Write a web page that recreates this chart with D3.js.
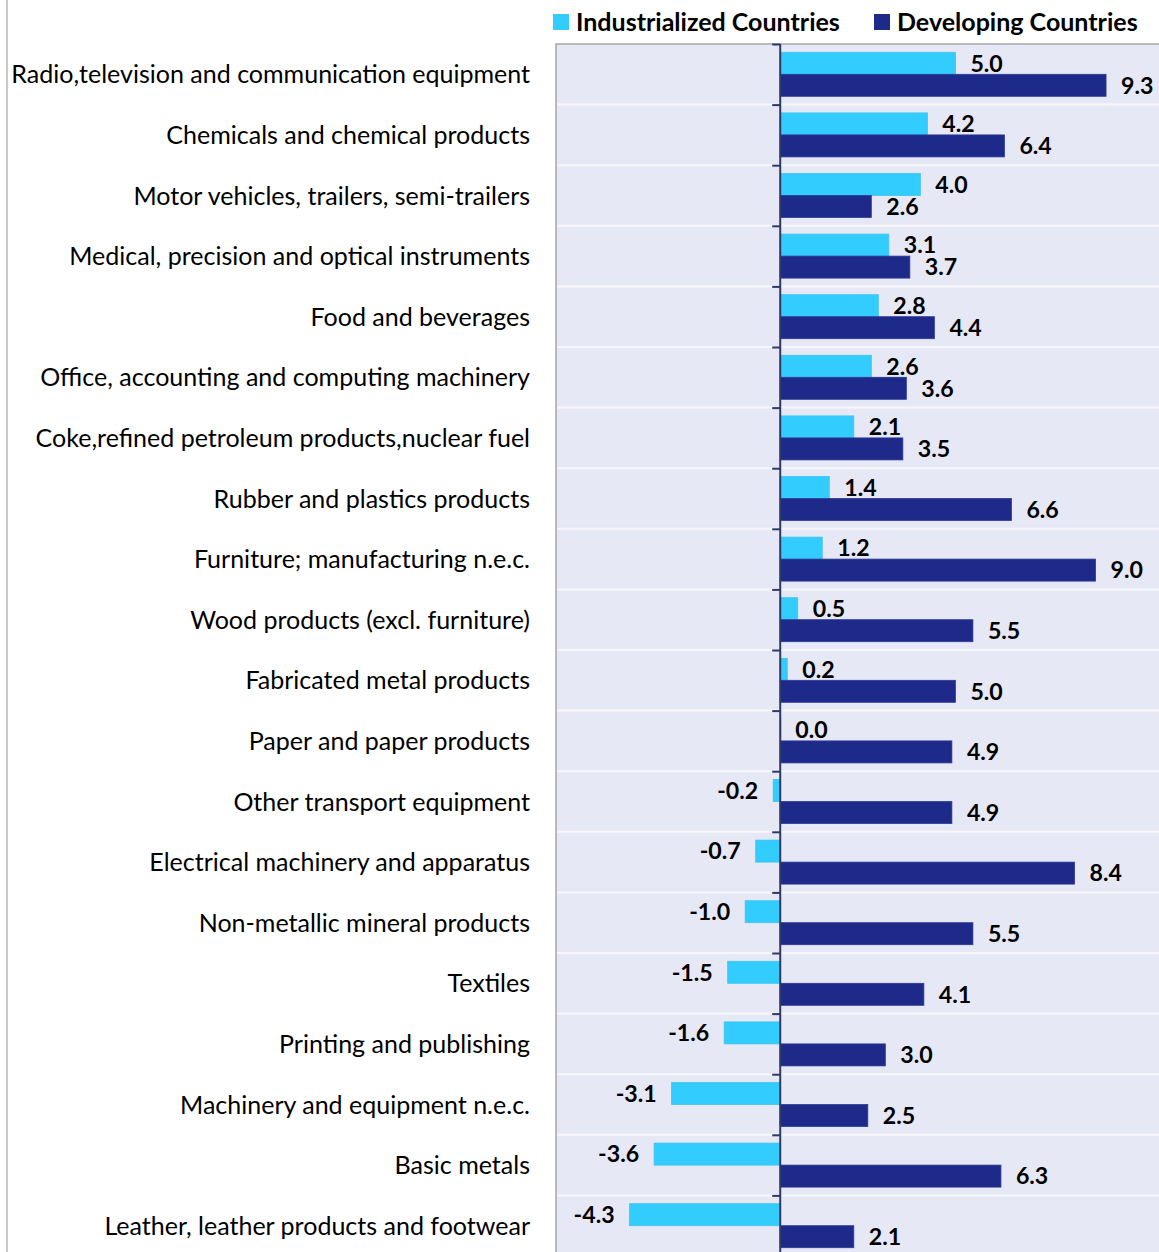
<!DOCTYPE html>
<html>
<head>
<meta charset="utf-8">
<script src="https://cdn.jsdelivr.net/npm/d3@7"></script>
<style>
  body { margin: 0; background: #fff; }
  svg { display: block; font-family: Lato, "Open Sans", sans-serif; }
</style>
</head>
<body>
<svg id="chart" width="1159" height="1252"></svg>
<script>
// data
var categories = [
  "Radio,television and communication equipment",
  "Chemicals and chemical products",
  "Motor vehicles, trailers, semi-trailers",
  "Medical, precision and optical instruments",
  "Food and beverages",
  "Office, accounting and computing machinery",
  "Coke,refined petroleum products,nuclear fuel",
  "Rubber and plastics products",
  "Furniture; manufacturing n.e.c.",
  "Wood products (excl. furniture)",
  "Fabricated metal products",
  "Paper and paper products",
  "Other transport equipment",
  "Electrical machinery and apparatus",
  "Non-metallic mineral products",
  "Textiles",
  "Printing and publishing",
  "Machinery and equipment n.e.c.",
  "Basic metals",
  "Leather, leather products and footwear"
];
var industrialized = [5.0, 4.2, 4.0, 3.1, 2.8, 2.6, 2.1, 1.4, 1.2, 0.5, 0.2, 0.0, -0.2, -0.7, -1.0, -1.5, -1.6, -3.1, -3.6, -4.3];
var developing = [9.3, 6.4, 2.6, 3.7, 4.4, 3.6, 3.5, 6.6, 9.0, 5.5, 5.0, 4.9, 4.9, 8.4, 5.5, 4.1, 3.0, 2.5, 6.3, 2.1];
var seriesNames = ["Industrialized Countries", "Developing Countries"];
var seriesColors = ["#33CCFF", "#1E2A8A"];

var svg = d3.select("#chart");
var plot = {left: 556, top: 44, right: 1160, bottom: 1256};

var x = d3.scaleLinear().domain([-6.4, 10.84]).range([plot.left, plot.right]);
var y = d3.scaleBand().domain(categories).range([plot.top, plot.bottom]);
var inner = d3.scaleBand().domain([0, 1]).range([0, y.bandwidth()]).paddingInner(0).paddingOuter(0.377);

var fmt = function(v) { return d3.format(".1f")(v).replace("\u2212", "-"); };

// fit a text selection so that its widest item has the given width
function fitWidth(sel, base, target) {
  var w = 0;
  sel.each(function() { w = Math.max(w, this.getComputedTextLength()); });
  var size = base * target / w;
  sel.attr("font-size", size);
  return size;
}

// page left rule
svg.append("line")
  .attr("x1", 7).attr("x2", 7).attr("y1", 0).attr("y2", 1252)
  .attr("stroke", "#c8c8c8").attr("stroke-width", 2);

// plot background
svg.append("rect")
  .attr("x", plot.left).attr("y", plot.top)
  .attr("width", plot.right - plot.left).attr("height", plot.bottom - plot.top)
  .attr("fill", "#E7E8F5")
  .attr("stroke", "#a6a6a6").attr("stroke-width", 1.5);

// gridlines between categories
svg.append("g").selectAll("line")
  .data(categories.slice(1))
  .join("line")
  .attr("x1", plot.left + 1).attr("x2", plot.right)
  .attr("y1", function(d) { return y(d); })
  .attr("y2", function(d) { return y(d); })
  .attr("stroke", "#f7f7fb").attr("stroke-width", 2);

var rows = categories.map(function(c, i) {
  return {cat: c, vals: [industrialized[i], developing[i]]};
});

var g = svg.append("g").selectAll("g")
  .data(rows)
  .join("g")
  .attr("transform", function(d) { return "translate(0," + y(d.cat) + ")"; });

g.selectAll("rect")
  .data(function(d) { return d.vals; })
  .join("rect")
  .attr("x", function(v) { return x(Math.min(0, v)); })
  .attr("y", function(v, i) { return inner(i); })
  .attr("width", function(v) { return Math.max(0.6, Math.abs(x(v) - x(0))); })
  .attr("height", inner.bandwidth())
  .attr("fill", function(v, i) { return seriesColors[i]; })
  .attr("stroke", function(v, i) { return i ? "#2c3a96" : "#3fc4f0"; })
  .attr("stroke-width", 0.8);

var vals = g.selectAll("text")
  .data(function(d) { return d.vals; })
  .join("text")
  .attr("x", function(v) { return v < 0 ? x(v) - 15 : x(v) + 15; })
  .attr("y", function(v, i) { return inner(i) + inner.bandwidth() / 2; })
  .attr("dy", "0.36em")
  .attr("text-anchor", function(v) { return v < 0 ? "end" : "start"; })
  .attr("font-weight", "bold")
  .attr("font-size", 21)
  .attr("fill", "#000")
  .text(fmt);
fitWidth(vals.filter(function(v) { return v === -4.3; }), 21, 41);
vals.attr("font-size", vals.filter(function(v) { return v === -4.3; }).attr("font-size"));

// category labels
var labels = svg.append("g").selectAll("text")
  .data(categories)
  .join("text")
  .attr("x", 530)
  .attr("y", function(d) { return y(d) + y.bandwidth() / 2; })
  .attr("dy", "0.36em")
  .attr("text-anchor", "end")
  .attr("font-size", 22)
  .attr("fill", "#000")
  .text(function(d) { return d; });
fitWidth(labels, 22, 519);

// zero axis with ticks on the left
var axis = d3.axisLeft(d3.scaleLinear().domain([0, categories.length]).range([plot.top, plot.bottom]))
  .ticks(categories.length).tickSize(8).tickFormat("");
var ax = svg.append("g").attr("transform", "translate(" + x(0) + ",0)").call(axis);
ax.select(".domain").attr("stroke", "#2d3a66").attr("stroke-width", 2).attr("d", "M0," + plot.top + "V" + plot.bottom);
ax.selectAll(".tick line").attr("stroke", "#2d3a66").attr("stroke-width", 2);

// legend
var legend = svg.append("g").selectAll("g")
  .data(seriesNames)
  .join("g")
  .attr("transform", function(d, i) { return "translate(" + [553, 874][i] + ",14)"; });
legend.append("rect")
  .attr("width", 16).attr("height", 16)
  .attr("fill", function(d, i) { return seriesColors[i]; });
var legText = legend.append("text")
  .attr("x", 23).attr("y", 8).attr("dy", "0.36em")
  .attr("font-weight", "bold").attr("font-size", 22)
  .text(function(d) { return d; });
fitWidth(legText.filter(function(d, i) { return i === 0; }), 22, 264);
legText.attr("font-size", legText.filter(function(d, i) { return i === 0; }).attr("font-size"));
</script>
</body>
</html>
